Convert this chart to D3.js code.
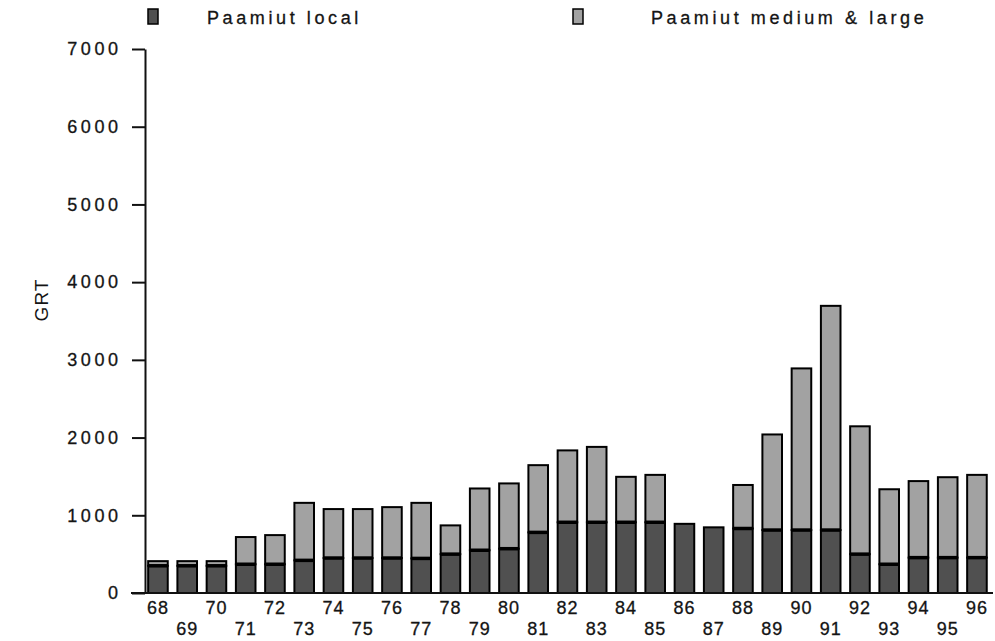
<!DOCTYPE html>
<html>
<head>
<meta charset="utf-8">
<script src="https://cdn.jsdelivr.net/npm/d3@7"></script>
<style>
  body { margin: 0; background: #fff; }
  svg { font-family: "Liberation Sans", Arial, sans-serif; }
</style>
</head>
<body>
<div id="chart"></div>
<script>
// Paamiut fleet tonnage (GRT), 1968-1996
const years = ['68','69','70','71','72','73','74','75','76','77','78','79','80','81','82',
               '83','84','85','86','87','88','89','90','91','92','93','94','95','96'];
const localGRT = [350, 350, 350, 370, 370, 420, 450, 450, 450, 445, 500, 550, 570, 780, 910,
                  910, 910, 910, 890, 845, 830, 810, 810, 810, 500, 370, 455, 455, 455];
const mediumLargeGRT = [60, 60, 60, 350, 375, 740, 630, 630, 655, 715, 370, 795, 840, 865, 925,
                        970, 585, 610, 0, 0, 560, 1230, 2080, 2885, 1645, 965, 985, 1035, 1065];
const yTicks = [0, 1000, 2000, 3000, 4000, 5000, 6000, 7000];
const seriesNames = ['Paamiut local', 'Paamiut medium & large'];

const width = 995, height = 641;
const darkFill = '#505050', lightFill = '#a2a2a2';
const textColor = '#141414';

const svg = d3.select('#chart').append('svg')
    .attr('width', width)
    .attr('height', height);

const x = d3.scaleBand()
    .domain(years)
    .range([138.5, 996.4])
    .padding(0.33);

const y = d3.scaleLinear()
    .domain([0, 7000])
    .range([593, 49]);

// y axis
const yAxis = d3.axisLeft(y)
    .tickValues(yTicks)
    .tickFormat(d3.format('d'))
    .tickSize(13)
    .tickSizeOuter(0)
    .tickPadding(14);
const gy = svg.append('g')
    .attr('transform', 'translate(145,0)')
    .call(yAxis);
gy.select('.domain').attr('stroke', '#111').attr('stroke-width', 2);
gy.selectAll('.tick line').attr('stroke', '#111').attr('stroke-width', 2);
gy.selectAll('.tick text')
    .attr('fill', textColor)
    .attr('stroke', textColor)
    .attr('stroke-width', 0.3)
    .style('font-size', '18px')
    .style('letter-spacing', '3.6px')
    .attr('dx', 3.6);

// bars
const bars = svg.append('g');
years.forEach((yr, i) => {
    const l = localGRT[i], m = mediumLargeGRT[i];
    if (m > 0) {
        bars.append('rect')
            .attr('x', x(yr))
            .attr('y', y(l + m))
            .attr('width', x.bandwidth())
            .attr('height', y(l) - y(l + m))
            .attr('fill', lightFill)
            .attr('stroke', '#000')
            .attr('stroke-width', 2);
    }
    bars.append('rect')
        .attr('x', x(yr))
        .attr('y', y(l))
        .attr('width', x.bandwidth())
        .attr('height', y(0) - y(l))
        .attr('fill', darkFill)
        .attr('stroke', '#000')
        .attr('stroke-width', 2);
    if (m > 0) {
        // thick separator between the two segments
        bars.append('line')
            .attr('x1', x(yr))
            .attr('x2', x(yr) + x.bandwidth())
            .attr('y1', y(l))
            .attr('y2', y(l))
            .attr('stroke', '#000')
            .attr('stroke-width', 3.5);
    }
});

// x baseline
svg.append('line')
    .attr('x1', 131).attr('x2', 993)
    .attr('y1', y(0)).attr('y2', y(0))
    .attr('stroke', '#111').attr('stroke-width', 2);

// x labels, alternating rows
svg.append('g').selectAll('text')
    .data(years)
    .join('text')
    .attr('x', d => x(d) + x.bandwidth() / 2)
    .attr('y', (d, i) => i % 2 === 0 ? 614 : 635)
    .attr('text-anchor', 'middle')
    .attr('fill', textColor)
    .attr('stroke', textColor)
    .attr('stroke-width', 0.3)
    .style('font-size', '18px')
    .style('letter-spacing', '1px')
    .text(d => d);

// y title
svg.append('text')
    .attr('transform', 'translate(48,300) rotate(-90)')
    .attr('text-anchor', 'middle')
    .attr('fill', textColor)
    .style('font-size', '19px')
    .style('letter-spacing', '1px')
    .text('GRT');

// legend
const legendX = [148, 573];
const legendTextX = [207, 651];
const legendFill = [darkFill, lightFill];
const legend = svg.append('g');
seriesNames.forEach((name, i) => {
    legend.append('rect')
        .attr('x', legendX[i]).attr('y', 9)
        .attr('width', 10).attr('height', 15)
        .attr('fill', legendFill[i])
        .attr('stroke', '#000').attr('stroke-width', 1.5);
    legend.append('text')
        .attr('x', legendTextX[i]).attr('y', 24)
        .attr('fill', textColor)
        .attr('stroke', textColor)
        .attr('stroke-width', 0.3)
        .style('font-size', '18px')
        .style('letter-spacing', '3.6px')
        .text(name);
});
</script>
</body>
</html>
